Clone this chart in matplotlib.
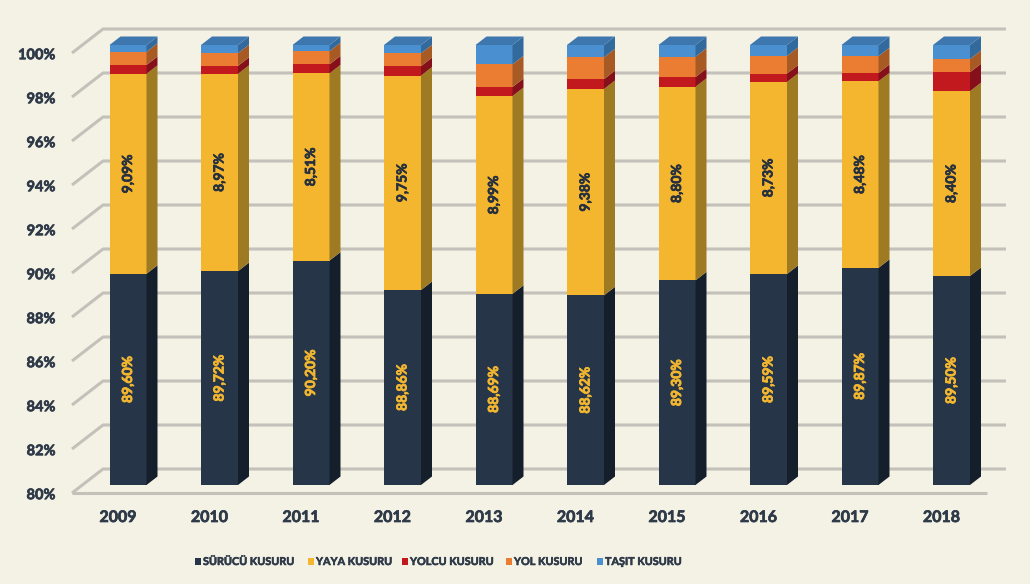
import matplotlib.pyplot as plt
import matplotlib.patheffects as pe
from matplotlib.patches import Polygon, Rectangle

# Kaza kusur dağılımı (%), 2009-2018
years = ["2009", "2010", "2011", "2012", "2013", "2014", "2015", "2016", "2017", "2018"]
surucu = [89.60, 89.72, 90.20, 88.86, 88.69, 88.62, 89.30, 89.59, 89.87, 89.50]
yaya = [9.09, 8.97, 8.51, 9.75, 8.99, 9.38, 8.80, 8.73, 8.48, 8.40]
yolcu = [0.40, 0.36, 0.41, 0.43, 0.41, 0.45, 0.44, 0.38, 0.38, 0.86]
yol = [0.60, 0.58, 0.60, 0.58, 1.03, 0.99, 0.93, 0.80, 0.76, 0.60]
tasit = [0.31, 0.37, 0.28, 0.38, 0.88, 0.56, 0.53, 0.50, 0.51, 0.64]

series_names = ["SÜRÜCÜ KUSURU", "YAYA KUSURU", "YOLCU KUSURU", "YOL KUSURU", "TAŞIT KUSURU"]
series = [surucu, yaya, yolcu, yol, tasit]
y_ticks = list(range(80, 101, 2))

front_cols = ["#263648", "#F4B62F", "#C1191D", "#EB7D33", "#4A8FD0"]
side_cols = ["#141F2B", "#9E7A22", "#86101A", "#A85A24", "#326A9E"]
top_col = "#3E77AE"

BG = "#F4F1E5"
GRID = "#C4C1BA"
TXT = "#2E3A48"
FONT = ["Lato", "DejaVu Sans"]

W, H = 1030, 584
PX_X, PX_Y = 91.5, 22.0  # pixels per category / per percent
X0, Y0 = 128, 485        # pixel of (first bar, 80%)


def thick(color, w=0.5):
    return [pe.withStroke(linewidth=w, foreground=color)]


fig = plt.figure(figsize=(W / 100, H / 100), dpi=100, facecolor=BG)
xlim = (-1.0, 9.6)
ylim = (76.0, 101.5)
left = (X0 + PX_X * xlim[0]) / W
right = (X0 + PX_X * xlim[1]) / W
bottom = 1 - (Y0 + PX_Y * (80 - ylim[0])) / H
top = 1 - (Y0 - PX_Y * (ylim[1] - 80)) / H
ax = fig.add_axes([left, bottom, right - left, top - bottom])
ax.set_xlim(*xlim)
ax.set_ylim(*ylim)
ax.axis("off")
ax.set_facecolor(BG)


def off(px, py):
    return px / PX_X, py / PX_Y


front_dx, front_dy = off(-10, -8)
back_dx, back_dy = off(21, 16)
bar_dx, bar_dy = off(11, 8.5)
bar_w = 37 / PX_X

wall_front_x = (72 - X0) / PX_X
wall_back_x = wall_front_x - front_dx + back_dx
wall_right_x = (1018 - X0) / PX_X
floor_right_x = (987 - X0) / PX_X

# side wall diagonals and back wall gridlines
for v in y_ticks:
    ax.plot([wall_front_x, wall_back_x, wall_right_x],
            [v + front_dy, v + back_dy, v + back_dy],
            color=GRID, lw=2.2, solid_capstyle="butt", zorder=1)
    ax.text(wall_front_x - 0.18, v + front_dy - 0.1, f"{v}%", ha="right", va="center",
            fontsize=10.5, fontweight="bold", color=TXT, family=FONT,
            path_effects=thick(TXT))
# floor front edge
ax.plot([wall_front_x, floor_right_x], [80 + front_dy, 80 + front_dy],
        color=GRID, lw=2.2, solid_capstyle="butt", zorder=1)

for i, yr in enumerate(years):
    base = 80.0
    x_l, x_r = i - bar_w / 2, i + bar_w / 2
    bounds = []
    for k, vals in enumerate(series):
        lo = base
        hi = vals[i] if k == 0 else base + vals[i]
        hi = min(hi, 100.0)
        bounds.append((lo, hi))
        ax.add_patch(Rectangle((x_l, lo), bar_w, hi - lo, facecolor=front_cols[k],
                               edgecolor="none", zorder=3))
        ax.add_patch(Polygon([(x_r, lo), (x_r + bar_dx, lo + bar_dy),
                              (x_r + bar_dx, hi + bar_dy), (x_r, hi)],
                             closed=True, facecolor=side_cols[k], edgecolor="none", zorder=3))
        base = hi
    ax.add_patch(Polygon([(x_l, base), (x_r, base), (x_r + bar_dx, base + bar_dy),
                          (x_l + bar_dx, base + bar_dy)],
                         closed=True, facecolor=top_col, edgecolor="none", zorder=3))

    lo, hi = bounds[0]
    ax.text(i, (lo + hi) / 2, f"{surucu[i]:.2f}%".replace(".", ","), rotation=90,
            ha="center", va="center", fontsize=10, fontweight="bold",
            color="#F2B631", family=FONT, zorder=4, path_effects=thick("#F2B631", 0.6))
    lo, hi = bounds[1]
    ax.text(i, (lo + hi) / 2, f"{yaya[i]:.2f}%".replace(".", ","), rotation=90,
            ha="center", va="center", fontsize=10, fontweight="bold",
            color="#26303E", family=FONT, zorder=4, path_effects=thick("#26303E"))

    ax.text(i + front_dx, 80 - 33 / PX_Y, yr, ha="center", va="center",
            fontsize=11.5, fontweight="bold", color=TXT, family=FONT,
            path_effects=thick(TXT))

# legend
leg_x = [195, 308, 402, 506, 597]
leg_y = 1 - 561.5 / H
for k, name in enumerate(series_names):
    fig.patches.append(Rectangle((leg_x[k] / W, leg_y - 3.5 / H), 6 / W, 7 / H,
                                 transform=fig.transFigure, facecolor=front_cols[k],
                                 edgecolor="none"))
    fig.text((leg_x[k] + 8) / W, leg_y, name, ha="left", va="center", fontsize=7.8,
             fontweight="bold", color=TXT, family=FONT, path_effects=thick(TXT, 0.4))

fig.savefig("out.png", dpi=100, facecolor=BG)
